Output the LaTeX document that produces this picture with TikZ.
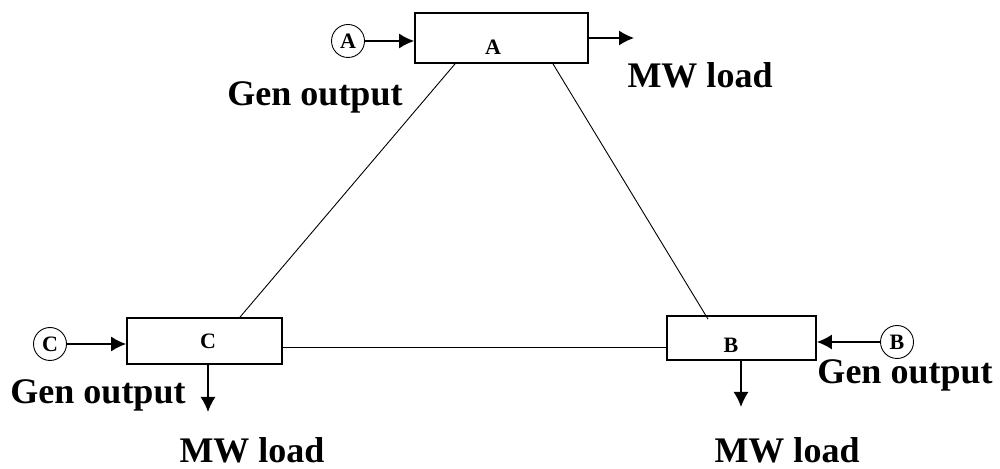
\documentclass[tikz,border=0pt]{standalone}
\usepackage{fontspec}
\setmainfont{Liberation Serif}
\usetikzlibrary{arrows.meta,calc}
\begin{document}
\begin{tikzpicture}[x=1pt,y=1pt,
  busbox/.style={draw,line width=1.8pt,rectangle,inner sep=0pt},
  gencirc/.style={draw,line width=0.9pt,circle,minimum size=33pt,inner sep=0pt,font=\fontsize{22}{23}\selectfont\bfseries},
  boxlbl/.style={font=\fontsize{22}{23}\selectfont\bfseries,inner sep=0pt},
  lbl/.style={font=\fontsize{36}{38}\selectfont\bfseries,inner sep=0pt},
  arr/.style={line width=1.5pt,-{Latex[length=15pt,width=15pt]}},
  tie/.style={line width=0.9pt}]
\useasboundingbox (0,0) rectangle (1000,468);
\node[busbox,minimum width=173pt,minimum height=50pt] (A) at (501.5,430) {};
\node[busbox,minimum width=155pt,minimum height=46pt] (C) at (204.5,127) {};
\node[busbox,minimum width=149pt,minimum height=44pt] (B) at (741.5,130) {};
\node[boxlbl] (Alab) at (493,421) {A};
\node[boxlbl] (Clab) at (208,127) {C};
\node[boxlbl] (Blab) at (731,123) {B};
\node[gencirc] (gA) at (348,427) {A};
\node[gencirc] (gC) at (50,124) {C};
\node[gencirc] (gB) at (897,126) {B};
\node[lbl] (tgA) at (315,371) {Gen output};
\node[lbl] (tmA) at (700,393) {MW load};
\node[lbl] (tgC) at (98,73) {Gen output};
\node[lbl] (tmC) at (252,18) {MW load};
\node[lbl] (tgB) at (905,93) {Gen output};
\node[lbl] (tmB) at (787,18) {MW load};
\coordinate (oA) at (634,430);
\coordinate (oC) at (208,56);
\coordinate (oB) at (741,61);
\draw[arr] (gA) -- (gA -| A.west);
\draw[arr] (gC) -- (gC -| C.west);
\draw[arr] (gB) -- (gB -| B.east);
\draw[arr] (A.east) -- (oA);
\draw[arr] (oC |- C.south) -- (oC);
\draw[arr] (oB |- B.south) -- (oB);
\draw[tie] ([xshift=-46.5pt]A.south) -- ([xshift=35.5pt]C.north);
\draw[tie] ([xshift=51.5pt]A.south) -- ([xshift=-33.5pt,yshift=-4pt]B.north);
\draw[tie] ([yshift=-6pt]C.east) -- ([yshift=-9pt]B.west);
\end{tikzpicture}
\end{document}
